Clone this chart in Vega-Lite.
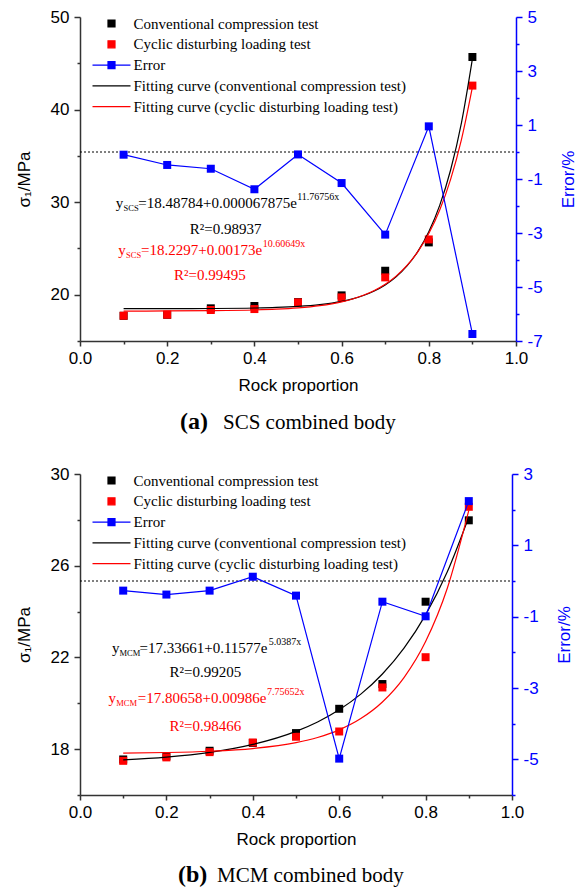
{
  "$schema": "https://vega.github.io/schema/vega-lite/v6.json",
  "padding": {"left": 15, "top": 8, "right": 0, "bottom": 0},
  "background": "white",
  "spacing": 31,
  "config": {
    "view": {"stroke": null},
    "axis": {"grid": false, "labelFont": "Liberation Sans", "labelFontSize": 17, "labelColor": "#000000", "titleFont": "Liberation Sans", "titleFontSize": 17, "titleFontWeight": "normal", "titleColor": "#000000", "domainColor": "#333333", "domainWidth": 1.5, "tickColor": "#333333", "tickWidth": 1.5, "labelOverlap": false, "labelFlush": false, "labelBound": false},
    "legend": {"orient": "none", "legendX": 24, "legendY": -1, "padding": 0, "rowPadding": 4.8, "symbolSize": 100, "symbolStrokeWidth": 1.2, "symbolOpacity": 1, "labelFont": "Liberation Serif", "labelFontSize": 15, "labelColor": "#000000", "labelOffset": 14.5, "labelLimit": 0},
    "text": {"font": "Liberation Serif"}
  },
  "datasets": {
    "pts": [
      {"p":"a","s":"Conventional compression test","x":0.1,"v":17.72},
      {"p":"a","s":"Conventional compression test","x":0.2,"v":17.83},
      {"p":"a","s":"Conventional compression test","x":0.3,"v":18.53},
      {"p":"a","s":"Conventional compression test","x":0.4,"v":18.78},
      {"p":"a","s":"Conventional compression test","x":0.5,"v":19.2},
      {"p":"a","s":"Conventional compression test","x":0.6,"v":19.93},
      {"p":"a","s":"Conventional compression test","x":0.7,"v":22.59},
      {"p":"a","s":"Conventional compression test","x":0.8,"v":25.65},
      {"p":"a","s":"Conventional compression test","x":0.9,"v":45.68},
      {"p":"a","s":"Cyclic disturbing loading test","x":0.1,"v":17.73},
      {"p":"a","s":"Cyclic disturbing loading test","x":0.2,"v":17.84},
      {"p":"a","s":"Cyclic disturbing loading test","x":0.3,"v":18.35},
      {"p":"a","s":"Cyclic disturbing loading test","x":0.4,"v":18.45},
      {"p":"a","s":"Cyclic disturbing loading test","x":0.5,"v":19.17},
      {"p":"a","s":"Cyclic disturbing loading test","x":0.6,"v":19.71},
      {"p":"a","s":"Cyclic disturbing loading test","x":0.7,"v":21.87},
      {"p":"a","s":"Cyclic disturbing loading test","x":0.8,"v":25.97},
      {"p":"a","s":"Cyclic disturbing loading test","x":0.9,"v":42.59},
      {"p":"b","s":"Conventional compression test","x":0.1,"v":17.55},
      {"p":"b","s":"Conventional compression test","x":0.2,"v":17.69},
      {"p":"b","s":"Conventional compression test","x":0.3,"v":17.93},
      {"p":"b","s":"Conventional compression test","x":0.4,"v":18.27},
      {"p":"b","s":"Conventional compression test","x":0.5,"v":18.7},
      {"p":"b","s":"Conventional compression test","x":0.6,"v":19.76},
      {"p":"b","s":"Conventional compression test","x":0.7,"v":20.84},
      {"p":"b","s":"Conventional compression test","x":0.8,"v":24.43},
      {"p":"b","s":"Conventional compression test","x":0.9,"v":27.98},
      {"p":"b","s":"Cyclic disturbing loading test","x":0.1,"v":17.49},
      {"p":"b","s":"Cyclic disturbing loading test","x":0.2,"v":17.64},
      {"p":"b","s":"Cyclic disturbing loading test","x":0.3,"v":17.87},
      {"p":"b","s":"Cyclic disturbing loading test","x":0.4,"v":18.29},
      {"p":"b","s":"Cyclic disturbing loading test","x":0.5,"v":18.54},
      {"p":"b","s":"Cyclic disturbing loading test","x":0.6,"v":18.77},
      {"p":"b","s":"Cyclic disturbing loading test","x":0.7,"v":20.69},
      {"p":"b","s":"Cyclic disturbing loading test","x":0.8,"v":22.01},
      {"p":"b","s":"Cyclic disturbing loading test","x":0.9,"v":28.57}
    ],
    "err": [
      {"p":"a","s":"Error","x":0.1,"e":-0.10},
      {"p":"a","s":"Error","x":0.2,"e":-0.48},
      {"p":"a","s":"Error","x":0.3,"e":-0.62},
      {"p":"a","s":"Error","x":0.4,"e":-1.38},
      {"p":"a","s":"Error","x":0.5,"e":-0.09},
      {"p":"a","s":"Error","x":0.6,"e":-1.15},
      {"p":"a","s":"Error","x":0.7,"e":-3.06},
      {"p":"a","s":"Error","x":0.8,"e":0.95},
      {"p":"a","s":"Error","x":0.9,"e":-6.74},
      {"p":"b","s":"Error","x":0.1,"e":-0.27},
      {"p":"b","s":"Error","x":0.2,"e":-0.38},
      {"p":"b","s":"Error","x":0.3,"e":-0.27},
      {"p":"b","s":"Error","x":0.4,"e":0.12},
      {"p":"b","s":"Error","x":0.5,"e":-0.41},
      {"p":"b","s":"Error","x":0.6,"e":-4.98},
      {"p":"b","s":"Error","x":0.7,"e":-0.58},
      {"p":"b","s":"Error","x":0.8,"e":-0.99},
      {"p":"b","s":"Error","x":0.9,"e":2.24}
    ],
    "zero": [{"x":0,"e":0},{"x":1,"e":0}],
    "fit": [
      {"p":"a","s":"Fitting curve (conventional compression test)","x":0.1,"v":18.490},
      {"p":"a","s":"Fitting curve (conventional compression test)","x":0.2,"v":18.495},
      {"p":"a","s":"Fitting curve (conventional compression test)","x":0.3,"v":18.511},
      {"p":"a","s":"Fitting curve (conventional compression test)","x":0.4,"v":18.563},
      {"p":"a","s":"Fitting curve (conventional compression test)","x":0.45,"v":18.623},
      {"p":"a","s":"Fitting curve (conventional compression test)","x":0.5,"v":18.732},
      {"p":"a","s":"Fitting curve (conventional compression test)","x":0.55,"v":18.927},
      {"p":"a","s":"Fitting curve (conventional compression test)","x":0.6,"v":19.279},
      {"p":"a","s":"Fitting curve (conventional compression test)","x":0.625,"v":19.549},
      {"p":"a","s":"Fitting curve (conventional compression test)","x":0.65,"v":19.912},
      {"p":"a","s":"Fitting curve (conventional compression test)","x":0.675,"v":20.399},
      {"p":"a","s":"Fitting curve (conventional compression test)","x":0.7,"v":21.053},
      {"p":"a","s":"Fitting curve (conventional compression test)","x":0.725,"v":21.930},
      {"p":"a","s":"Fitting curve (conventional compression test)","x":0.75,"v":23.108},
      {"p":"a","s":"Fitting curve (conventional compression test)","x":0.775,"v":24.688},
      {"p":"a","s":"Fitting curve (conventional compression test)","x":0.8,"v":26.809},
      {"p":"a","s":"Fitting curve (conventional compression test)","x":0.825,"v":29.655},
      {"p":"a","s":"Fitting curve (conventional compression test)","x":0.85,"v":33.475},
      {"p":"a","s":"Fitting curve (conventional compression test)","x":0.875,"v":38.601},
      {"p":"a","s":"Fitting curve (conventional compression test)","x":0.9,"v":45.481},
      {"p":"a","s":"Fitting curve (cyclic disturbing loading test)","x":0.1,"v":18.235},
      {"p":"a","s":"Fitting curve (cyclic disturbing loading test)","x":0.2,"v":18.244},
      {"p":"a","s":"Fitting curve (cyclic disturbing loading test)","x":0.3,"v":18.271},
      {"p":"a","s":"Fitting curve (cyclic disturbing loading test)","x":0.4,"v":18.350},
      {"p":"a","s":"Fitting curve (cyclic disturbing loading test)","x":0.45,"v":18.434},
      {"p":"a","s":"Fitting curve (cyclic disturbing loading test)","x":0.5,"v":18.577},
      {"p":"a","s":"Fitting curve (cyclic disturbing loading test)","x":0.55,"v":18.821},
      {"p":"a","s":"Fitting curve (cyclic disturbing loading test)","x":0.6,"v":19.234},
      {"p":"a","s":"Fitting curve (cyclic disturbing loading test)","x":0.625,"v":19.539},
      {"p":"a","s":"Fitting curve (cyclic disturbing loading test)","x":0.65,"v":19.936},
      {"p":"a","s":"Fitting curve (cyclic disturbing loading test)","x":0.675,"v":20.455},
      {"p":"a","s":"Fitting curve (cyclic disturbing loading test)","x":0.7,"v":21.130},
      {"p":"a","s":"Fitting curve (cyclic disturbing loading test)","x":0.725,"v":22.011},
      {"p":"a","s":"Fitting curve (cyclic disturbing loading test)","x":0.75,"v":23.159},
      {"p":"a","s":"Fitting curve (cyclic disturbing loading test)","x":0.775,"v":24.656},
      {"p":"a","s":"Fitting curve (cyclic disturbing loading test)","x":0.8,"v":26.607},
      {"p":"a","s":"Fitting curve (cyclic disturbing loading test)","x":0.825,"v":29.151},
      {"p":"a","s":"Fitting curve (cyclic disturbing loading test)","x":0.85,"v":32.467},
      {"p":"a","s":"Fitting curve (cyclic disturbing loading test)","x":0.875,"v":36.791},
      {"p":"a","s":"Fitting curve (cyclic disturbing loading test)","x":0.9,"v":42.426},
      {"p":"b","s":"Fitting curve (conventional compression test)","x":0.1,"v":17.528},
      {"p":"b","s":"Fitting curve (conventional compression test)","x":0.2,"v":17.654},
      {"p":"b","s":"Fitting curve (conventional compression test)","x":0.3,"v":17.862},
      {"p":"b","s":"Fitting curve (conventional compression test)","x":0.4,"v":18.205},
      {"p":"b","s":"Fitting curve (conventional compression test)","x":0.5,"v":18.775},
      {"p":"b","s":"Fitting curve (conventional compression test)","x":0.55,"v":19.187},
      {"p":"b","s":"Fitting curve (conventional compression test)","x":0.6,"v":19.717},
      {"p":"b","s":"Fitting curve (conventional compression test)","x":0.65,"v":20.398},
      {"p":"b","s":"Fitting curve (conventional compression test)","x":0.7,"v":21.276},
      {"p":"b","s":"Fitting curve (conventional compression test)","x":0.75,"v":22.404},
      {"p":"b","s":"Fitting curve (conventional compression test)","x":0.8,"v":23.856},
      {"p":"b","s":"Fitting curve (conventional compression test)","x":0.85,"v":25.724},
      {"p":"b","s":"Fitting curve (conventional compression test)","x":0.9,"v":28.127},
      {"p":"b","s":"Fitting curve (cyclic disturbing loading test)","x":0.1,"v":17.828},
      {"p":"b","s":"Fitting curve (cyclic disturbing loading test)","x":0.2,"v":17.853},
      {"p":"b","s":"Fitting curve (cyclic disturbing loading test)","x":0.3,"v":17.908},
      {"p":"b","s":"Fitting curve (cyclic disturbing loading test)","x":0.4,"v":18.026},
      {"p":"b","s":"Fitting curve (cyclic disturbing loading test)","x":0.5,"v":18.283},
      {"p":"b","s":"Fitting curve (cyclic disturbing loading test)","x":0.55,"v":18.509},
      {"p":"b","s":"Fitting curve (cyclic disturbing loading test)","x":0.6,"v":18.842},
      {"p":"b","s":"Fitting curve (cyclic disturbing loading test)","x":0.65,"v":19.332},
      {"p":"b","s":"Fitting curve (cyclic disturbing loading test)","x":0.7,"v":20.055},
      {"p":"b","s":"Fitting curve (cyclic disturbing loading test)","x":0.75,"v":21.120},
      {"p":"b","s":"Fitting curve (cyclic disturbing loading test)","x":0.8,"v":22.691},
      {"p":"b","s":"Fitting curve (cyclic disturbing loading test)","x":0.85,"v":25.004},
      {"p":"b","s":"Fitting curve (cyclic disturbing loading test)","x":0.9,"v":28.415}
    ],
    "notes": [
      {"p":"a","role":"main","c":"k","x":0.082,"v":29.9,"t":"y"},
      {"p":"a","role":"sub","c":"k","x":0.100,"v":29.9,"t":"SCS"},
      {"p":"a","role":"main","c":"k","x":0.1337,"v":29.9,"t":"=18.48784+0.000067875e"},
      {"p":"a","role":"sup","c":"k","x":0.498,"v":29.9,"t":"11.76756x"},
      {"p":"a","role":"r2","c":"k","x":0.334,"v":27.13,"t":"R²=0.98937"},
      {"p":"a","role":"main","c":"r","x":0.088,"v":24.78,"t":"y"},
      {"p":"a","role":"sub","c":"r","x":0.1055,"v":24.78,"t":"SCS"},
      {"p":"a","role":"main","c":"r","x":0.140,"v":24.78,"t":"=18.2297+0.00173e"},
      {"p":"a","role":"sup","c":"r","x":0.419,"v":24.78,"t":"10.60649x"},
      {"p":"a","role":"r2","c":"r","x":0.298,"v":22.08,"t":"R²=0.99495"},
      {"p":"b","role":"main","c":"k","x":0.074,"v":22.40,"t":"y"},
      {"p":"b","role":"sub","c":"k","x":0.0914,"v":22.40,"t":"MCM"},
      {"p":"b","role":"main","c":"k","x":0.1377,"v":22.40,"t":"=17.33661+0.11577e"},
      {"p":"b","role":"sup","c":"k","x":0.437,"v":22.40,"t":"5.0387x"},
      {"p":"b","role":"r2","c":"k","x":0.290,"v":21.38,"t":"R²=0.99205"},
      {"p":"b","role":"main","c":"r","x":0.066,"v":20.22,"t":"y"},
      {"p":"b","role":"sub","c":"r","x":0.0838,"v":20.22,"t":"MCM"},
      {"p":"b","role":"main","c":"r","x":0.1338,"v":20.22,"t":"=17.80658+0.00986e"},
      {"p":"b","role":"sup","c":"r","x":0.433,"v":20.22,"t":"7.75652x"},
      {"p":"b","role":"r2","c":"r","x":0.290,"v":19.03,"t":"R²=0.98466"}
    ]
  },
  "resolve": {"scale": {"color": "independent", "shape": "independent"}, "legend": {"color": "independent", "shape": "independent"}},
  "vconcat": [
    {
      "width": 436,
      "height": 324,
      "title": {"text": "(a)", "subtitle": "SCS combined body", "orient": "bottom", "anchor": "start", "frame": "group", "dx": 143, "encoding": {"dx": {"value": 100}}, "offset": 17, "font": "Liberation Serif", "fontSize": 24, "fontWeight": "bold", "color": "#000000", "subtitleFont": "Liberation Serif", "subtitleFontSize": 21, "subtitleColor": "#000000", "subtitlePadding": -22},
      "encoding": {
        "x": {"field": "x", "type": "quantitative", "scale": {"domain": [0, 1], "nice": false, "zero": false},
          "axis": {"title": "Rock proportion", "values": [0,0.1,0.2,0.3,0.4,0.5,0.6,0.7,0.8,0.9,1], "format": ".1f",
            "labelExpr": "round(datum.value * 10) % 2 === 0 ? datum.label : ''",
            "tickSize": {"condition": {"test": "round(datum.value * 10) % 2 === 0", "value": 5}, "value": 3},
            "labelPadding": 4, "titlePadding": 11}}
      },
      "layer": [
        {
          "encoding": {"y": {"field": "v", "type": "quantitative", "scale": {"domain": [15, 50], "nice": false, "zero": false},
            "axis": {"title": "σ₁/MPa", "values": [15,20,25,30,35,40,45,50],
              "labelExpr": "datum.value % 10 === 0 ? datum.label : ''",
              "tickSize": {"condition": {"test": "datum.value % 10 === 0", "value": 6}, "value": 3},
              "labelPadding": 5, "titlePadding": 17}}},
          "layer": [
            {"data": {"name": "pts"}, "transform": [{"filter": "datum.p === 'a'"}],
              "mark": {"type": "point", "filled": true, "size": 130, "opacity": 1},
              "encoding": {
                "color": {"field": "s", "type": "nominal",
                  "scale": {"domain": ["Conventional compression test", "Cyclic disturbing loading test", "Error", "Fitting curve (conventional compression test)", "Fitting curve (cyclic disturbing loading test)"], "range": ["#000000", "#ff0000", "#0000ff", "#000000", "#ff0000"]},
                  "legend": {"title": null}},
                "shape": {"field": "s", "type": "nominal",
                  "scale": {"domain": ["Conventional compression test", "Cyclic disturbing loading test", "Error", "Fitting curve (conventional compression test)", "Fitting curve (cyclic disturbing loading test)"], "range": ["M-0.7,-0.7H0.7V0.7H-0.7Z", "M-0.7,-0.7H0.7V0.7H-0.7Z", "M-3.8,0H3.8M-0.7,-0.7H0.7V0.7H-0.7Z", "M-3.8,0H3.8", "M-3.8,0H3.8"]},
                  "legend": {"title": null}}}},
            {"data": {"name": "fit"}, "transform": [{"filter": "datum.p === 'a'"}],
              "mark": {"type": "line", "strokeWidth": 1.2, "interpolate": "monotone"},
              "encoding": {"color": {"field": "s", "type": "nominal"}}},
            {"data": {"name": "notes"}, "transform": [{"filter": "datum.p === 'a' && datum.role === 'main'"}],
              "mark": {"type": "text", "align": "left", "baseline": "middle", "font": "Liberation Serif", "fontSize": 15},
              "encoding": {"text": {"field": "t"}, "color": {"condition": {"test": "datum.c === 'r'", "value": "#ff0000"}, "value": "#000000"}}},
            {"data": {"name": "notes"}, "transform": [{"filter": "datum.p === 'a' && datum.role === 'sub'"}],
              "mark": {"type": "text", "align": "left", "baseline": "middle", "font": "Liberation Serif", "fontSize": 8.5, "dy": 5},
              "encoding": {"text": {"field": "t"}, "color": {"condition": {"test": "datum.c === 'r'", "value": "#ff0000"}, "value": "#000000"}}},
            {"data": {"name": "notes"}, "transform": [{"filter": "datum.p === 'a' && datum.role === 'sup'"}],
              "mark": {"type": "text", "align": "left", "baseline": "middle", "font": "Liberation Serif", "fontSize": 10, "dy": -6},
              "encoding": {"text": {"field": "t"}, "color": {"condition": {"test": "datum.c === 'r'", "value": "#ff0000"}, "value": "#000000"}}},
            {"data": {"name": "notes"}, "transform": [{"filter": "datum.p === 'a' && datum.role === 'r2'"}],
              "mark": {"type": "text", "align": "center", "baseline": "middle", "font": "Liberation Serif", "fontSize": 15},
              "encoding": {"text": {"field": "t"}, "color": {"condition": {"test": "datum.c === 'r'", "value": "#ff0000"}, "value": "#000000"}}}
          ]
        },
        {
          "encoding": {"y": {"field": "e", "type": "quantitative", "scale": {"domain": [-7, 5], "nice": false, "zero": false},
            "axis": {"orient": "right", "title": "Error/%", "values": [-7,-6,-5,-4,-3,-2,-1,0,1,2,3,4,5],
              "labelExpr": "abs(datum.value % 2) === 1 ? '' + datum.value : ''",
              "tickSize": {"condition": {"test": "abs(datum.value % 2) === 1", "value": 6}, "value": 3},
              "labelPadding": 5, "titlePadding": 18, "titleAngle": -90, "titleBaseline": "top",
              "domainColor": "#0000ff", "tickColor": "#0000ff", "labelColor": "#0000ff", "titleColor": "#0000ff"}}},
          "layer": [
            {"data": {"name": "zero"}, "mark": {"type": "line", "strokeDash": [2, 2], "color": "#000000", "strokeWidth": 1}, "encoding": {}},
            {"data": {"name": "err"}, "transform": [{"filter": "datum.p === 'a'"}],
              "mark": {"type": "line", "strokeWidth": 1.2, "point": {"shape": "square", "size": 64, "filled": true, "opacity": 1}},
              "encoding": {"color": {"field": "s", "type": "nominal"}}}
          ]
        }
      ],
      "resolve": {"scale": {"y": "independent"}}
    },
    {
      "width": 432,
      "height": 321,
      "title": {"text": "(b)", "subtitle": "MCM combined body", "orient": "bottom", "anchor": "start", "frame": "group", "dx": 137, "encoding": {"dx": {"value": 98}}, "offset": 16, "font": "Liberation Serif", "fontSize": 24, "fontWeight": "bold", "color": "#000000", "subtitleFont": "Liberation Serif", "subtitleFontSize": 21, "subtitleColor": "#000000", "subtitlePadding": -22},
      "encoding": {
        "x": {"field": "x", "type": "quantitative", "scale": {"domain": [0, 1], "nice": false, "zero": false},
          "axis": {"title": "Rock proportion", "values": [0,0.1,0.2,0.3,0.4,0.5,0.6,0.7,0.8,0.9,1], "format": ".1f",
            "labelExpr": "round(datum.value * 10) % 2 === 0 ? datum.label : ''",
            "tickSize": {"condition": {"test": "round(datum.value * 10) % 2 === 0", "value": 5}, "value": 3},
            "labelPadding": 4, "titlePadding": 11}}
      },
      "layer": [
        {
          "encoding": {"y": {"field": "v", "type": "quantitative", "scale": {"domain": [16, 30], "nice": false, "zero": false},
            "axis": {"title": "σ₁/MPa", "values": [16,18,20,22,24,26,28,30],
              "labelExpr": "(datum.value - 18) % 4 === 0 ? datum.label : ''",
              "tickSize": {"condition": {"test": "(datum.value - 18) % 4 === 0", "value": 6}, "value": 3},
              "labelPadding": 5, "titlePadding": 17}}},
          "layer": [
            {"data": {"name": "pts"}, "transform": [{"filter": "datum.p === 'b'"}],
              "mark": {"type": "point", "filled": true, "size": 130, "opacity": 1},
              "encoding": {
                "color": {"field": "s", "type": "nominal",
                  "scale": {"domain": ["Conventional compression test", "Cyclic disturbing loading test", "Error", "Fitting curve (conventional compression test)", "Fitting curve (cyclic disturbing loading test)"], "range": ["#000000", "#ff0000", "#0000ff", "#000000", "#ff0000"]},
                  "legend": {"title": null}},
                "shape": {"field": "s", "type": "nominal",
                  "scale": {"domain": ["Conventional compression test", "Cyclic disturbing loading test", "Error", "Fitting curve (conventional compression test)", "Fitting curve (cyclic disturbing loading test)"], "range": ["M-0.7,-0.7H0.7V0.7H-0.7Z", "M-0.7,-0.7H0.7V0.7H-0.7Z", "M-3.8,0H3.8M-0.7,-0.7H0.7V0.7H-0.7Z", "M-3.8,0H3.8", "M-3.8,0H3.8"]},
                  "legend": {"title": null}}}},
            {"data": {"name": "fit"}, "transform": [{"filter": "datum.p === 'b'"}],
              "mark": {"type": "line", "strokeWidth": 1.2, "interpolate": "monotone"},
              "encoding": {"color": {"field": "s", "type": "nominal"}}},
            {"data": {"name": "notes"}, "transform": [{"filter": "datum.p === 'b' && datum.role === 'main'"}],
              "mark": {"type": "text", "align": "left", "baseline": "middle", "font": "Liberation Serif", "fontSize": 15},
              "encoding": {"text": {"field": "t"}, "color": {"condition": {"test": "datum.c === 'r'", "value": "#ff0000"}, "value": "#000000"}}},
            {"data": {"name": "notes"}, "transform": [{"filter": "datum.p === 'b' && datum.role === 'sub'"}],
              "mark": {"type": "text", "align": "left", "baseline": "middle", "font": "Liberation Serif", "fontSize": 8.5, "dy": 5},
              "encoding": {"text": {"field": "t"}, "color": {"condition": {"test": "datum.c === 'r'", "value": "#ff0000"}, "value": "#000000"}}},
            {"data": {"name": "notes"}, "transform": [{"filter": "datum.p === 'b' && datum.role === 'sup'"}],
              "mark": {"type": "text", "align": "left", "baseline": "middle", "font": "Liberation Serif", "fontSize": 10, "dy": -6},
              "encoding": {"text": {"field": "t"}, "color": {"condition": {"test": "datum.c === 'r'", "value": "#ff0000"}, "value": "#000000"}}},
            {"data": {"name": "notes"}, "transform": [{"filter": "datum.p === 'b' && datum.role === 'r2'"}],
              "mark": {"type": "text", "align": "center", "baseline": "middle", "font": "Liberation Serif", "fontSize": 15},
              "encoding": {"text": {"field": "t"}, "color": {"condition": {"test": "datum.c === 'r'", "value": "#ff0000"}, "value": "#000000"}}}
          ]
        },
        {
          "encoding": {"y": {"field": "e", "type": "quantitative", "scale": {"domain": [-6, 3], "nice": false, "zero": false},
            "axis": {"orient": "right", "title": "Error/%", "values": [-6,-5,-4,-3,-2,-1,0,1,2,3],
              "labelExpr": "abs(datum.value % 2) === 1 ? '' + datum.value : ''",
              "tickSize": {"condition": {"test": "abs(datum.value % 2) === 1", "value": 6}, "value": 3},
              "labelPadding": 5, "titlePadding": 18, "titleAngle": -90, "titleBaseline": "top",
              "domainColor": "#0000ff", "tickColor": "#0000ff", "labelColor": "#0000ff", "titleColor": "#0000ff"}}},
          "layer": [
            {"data": {"name": "zero"}, "mark": {"type": "line", "strokeDash": [2, 2], "color": "#000000", "strokeWidth": 1}, "encoding": {}},
            {"data": {"name": "err"}, "transform": [{"filter": "datum.p === 'b'"}],
              "mark": {"type": "line", "strokeWidth": 1.2, "point": {"shape": "square", "size": 64, "filled": true, "opacity": 1}},
              "encoding": {"color": {"field": "s", "type": "nominal"}}}
          ]
        }
      ],
      "resolve": {"scale": {"y": "independent"}}
    }
  ]
}
